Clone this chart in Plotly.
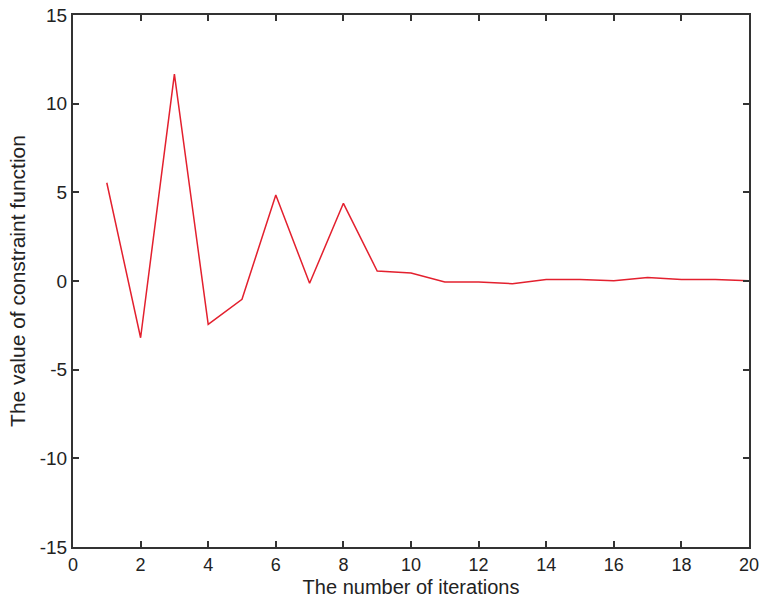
import plotly.graph_objects as go

iterations = list(range(1, 21))
constraint_values = [5.54, -3.2, 11.67, -2.45, -1.03, 4.85, -0.13, 4.38, 0.56, 0.45,
                     -0.06, -0.06, -0.15, 0.09, 0.09, 0.02, 0.2, 0.09, 0.09, 0.02]

x_ticks = list(range(0, 21, 2))
y_ticks = list(range(-15, 16, 5))
y_tick_labels = [str(v) for v in y_ticks]  # plain hyphen minus as in the original

fig = go.Figure()
fig.add_trace(go.Scatter(x=iterations, y=constraint_values, mode="lines",
                         line=dict(color="#e3202e", width=1.5), showlegend=False))

axis_common = dict(showline=True, linecolor="#333333", linewidth=2, mirror="ticks",
                   ticks="inside", ticklen=6, tickcolor="#333333", tickwidth=2,
                   showgrid=False, zeroline=False, automargin=False,
                   ticklabeloverflow="allow")

fig.update_xaxes(range=[0, 20], tickvals=x_ticks, ticktext=[str(v) for v in x_ticks],
                 tickfont=dict(family="Liberation Sans", size=18, color="#222222"),
                 title=dict(text="The number of iterations", standoff=6,
                            font=dict(family="Liberation Sans", size=20, color="#222222")),
                 **axis_common)
fig.update_yaxes(range=[-15, 15], tickvals=y_ticks, ticktext=y_tick_labels,
                 tickfont=dict(family="Liberation Sans", size=19, color="#222222"),
                 title=dict(text="The value of constraint function", standoff=8,
                            font=dict(family="Liberation Sans", size=21, color="#222222")),
                 **axis_common)

fig.update_layout(width=759, height=602, margin=dict(l=73, r=10, t=15, b=55),
                  plot_bgcolor="white", paper_bgcolor="white")

# remove the page's default body margin so the figure sits at the window's corner
fig.write_html("out.html", config={"displayModeBar": False},
               post_script="document.body.style.margin='0';")
